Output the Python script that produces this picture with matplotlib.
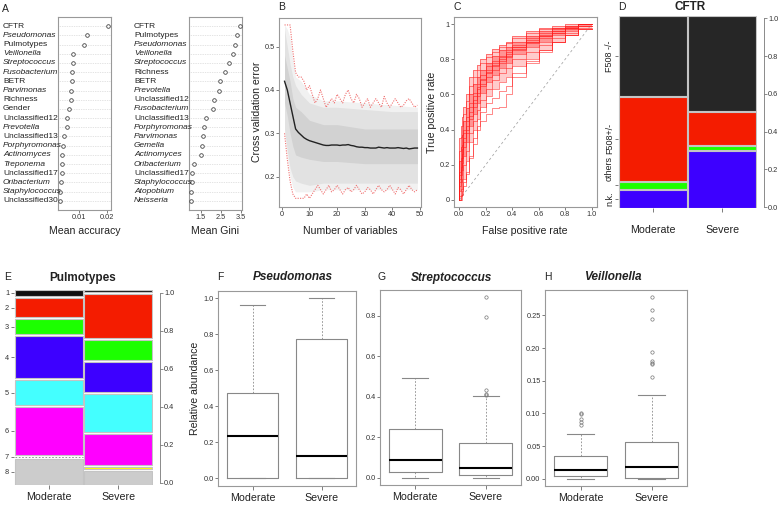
import matplotlib
matplotlib.use("Agg")
import matplotlib.pyplot as plt
import matplotlib.transforms as mtransforms
import numpy as np

plt.rcParams['font.family'] = ['Liberation Sans', 'DejaVu Sans']

W, H = 780, 505

# ---- A: variable importance ----
acc_labels = ["CFTR", "Pseudomonas", "Pulmotypes", "Veillonella", "Streptococcus",
              "Fusobacterium", "BETR", "Parvimonas", "Richness", "Gender",
              "Unclassified12", "Prevotella", "Unclassified13", "Porphyromonas",
              "Actinomyces", "Treponema", "Unclassified17", "Oribacterium",
              "Staphylococcus", "Unclassified30"]
acc_values = [0.0205, 0.0131, 0.0118, 0.0078, 0.0078, 0.0074, 0.0074, 0.0071, 0.0071,
              0.0066, 0.0058, 0.0057, 0.0046, 0.0044, 0.0040, 0.0040, 0.0038, 0.0035,
              0.0033, 0.0032]
gini_labels = ["CFTR", "Pulmotypes", "Pseudomonas", "Veillonella", "Streptococcus",
               "Richness", "BETR", "Prevotella", "Unclassified12", "Fusobacterium",
               "Unclassified13", "Porphyromonas", "Parvimonas", "Gemella", "Actinomyces",
               "Oribacterium", "Unclassified17", "Staphylococcus", "Atopobium", "Neisseria"]
gini_values = [3.45, 3.29, 3.19, 3.11, 2.91, 2.73, 2.44, 2.39, 2.16, 2.12, 1.79, 1.69,
               1.60, 1.57, 1.50, 1.20, 1.10, 1.10, 1.03, 1.03]
plain_labels = {"CFTR", "Pulmotypes", "BETR", "Richness", "Gender", "Unclassified12",
                "Unclassified13", "Unclassified17", "Unclassified30"}

# ---- B: cross validation error vs number of variables ----
nvar = list(range(1, 50))
cv_mean = [0.42, 0.40, 0.37, 0.34, 0.31, 0.302, 0.296, 0.29, 0.286, 0.283, 0.281, 0.279,
           0.277, 0.275, 0.273, 0.272, 0.272, 0.273, 0.273, 0.273, 0.272, 0.273, 0.273,
           0.274, 0.272, 0.271, 0.269, 0.268, 0.268, 0.267, 0.267, 0.266, 0.266, 0.266,
           0.268, 0.267, 0.266, 0.267, 0.266, 0.266, 0.266, 0.267, 0.266, 0.265, 0.266,
           0.264, 0.265, 0.266, 0.266]
cv_max = [0.55, 0.55, 0.55, 0.49, 0.44, 0.43, 0.43, 0.42, 0.40, 0.41, 0.39, 0.37, 0.38,
          0.40, 0.38, 0.36, 0.37, 0.38, 0.37, 0.39, 0.38, 0.37, 0.39, 0.40, 0.38, 0.37,
          0.39, 0.38, 0.36, 0.37, 0.38, 0.36, 0.37, 0.38, 0.37, 0.36, 0.385, 0.37, 0.36,
          0.37, 0.38, 0.37, 0.36, 0.365, 0.375, 0.38, 0.37, 0.36, 0.365]
cv_min = [0.30, 0.24, 0.19, 0.16, 0.15, 0.15, 0.15, 0.15, 0.16, 0.15, 0.16, 0.17, 0.18,
          0.17, 0.16, 0.17, 0.18, 0.165, 0.17, 0.18, 0.17, 0.16, 0.17, 0.175, 0.165, 0.17,
          0.18, 0.17, 0.16, 0.165, 0.175, 0.17, 0.16, 0.17, 0.18, 0.17, 0.165, 0.17, 0.18,
          0.17, 0.16, 0.175, 0.17, 0.16, 0.17, 0.18, 0.17, 0.165, 0.17]
band_x = [1, 2, 3, 4, 5, 7, 10, 15, 20, 30, 40, 49]
band_wide_lo = [0.30, 0.245, 0.20, 0.175, 0.165, 0.165, 0.165, 0.17, 0.17, 0.17, 0.17, 0.17]
band_wide_hi = [0.55, 0.54, 0.52, 0.47, 0.43, 0.42, 0.39, 0.375, 0.375, 0.37, 0.365, 0.36]
band_outer_lo = [0.31, 0.26, 0.22, 0.20, 0.19, 0.185, 0.18, 0.185, 0.185, 0.185, 0.185, 0.185]
band_outer_hi = [0.54, 0.50, 0.46, 0.43, 0.41, 0.39, 0.37, 0.36, 0.36, 0.355, 0.35, 0.35]
band_inner_lo = [0.37, 0.34, 0.30, 0.27, 0.25, 0.245, 0.24, 0.235, 0.235, 0.23, 0.23, 0.23]
band_inner_hi = [0.48, 0.45, 0.42, 0.38, 0.36, 0.35, 0.33, 0.32, 0.32, 0.31, 0.31, 0.31]

# ---- C: ROC curves ----
fpr = [0, 0.01, 0.02, 0.03, 0.05, 0.07, 0.1, 0.13, 0.16, 0.2, 0.25, 0.3, 0.35, 0.4,
       0.5, 0.6, 0.7, 0.8, 0.9, 1.0]
roc_upper = [0, 0.35, 0.42, 0.47, 0.53, 0.60, 0.70, 0.74, 0.77, 0.80, 0.83, 0.86, 0.88,
             0.90, 0.93, 0.96, 0.98, 0.99, 1.0, 1.0]
roc_u2 = [0, 0.28, 0.36, 0.42, 0.49, 0.56, 0.65, 0.70, 0.74, 0.78, 0.81, 0.84, 0.87,
          0.89, 0.92, 0.95, 0.97, 0.98, 0.99, 1.0]
roc_u3 = [0, 0.22, 0.30, 0.37, 0.45, 0.52, 0.60, 0.66, 0.70, 0.74, 0.78, 0.82, 0.85,
          0.87, 0.90, 0.93, 0.96, 0.98, 0.99, 1.0]
roc_m1 = [0, 0.16, 0.24, 0.31, 0.40, 0.47, 0.55, 0.61, 0.66, 0.71, 0.76, 0.79, 0.82,
          0.85, 0.88, 0.92, 0.95, 0.97, 0.985, 1.0]
roc_m1b = [0, 0.14, 0.22, 0.29, 0.38, 0.45, 0.53, 0.59, 0.64, 0.69, 0.74, 0.78, 0.81,
           0.84, 0.87, 0.91, 0.94, 0.96, 0.98, 1.0]
roc_m2 = [0, 0.12, 0.19, 0.26, 0.35, 0.42, 0.50, 0.57, 0.63, 0.68, 0.73, 0.77, 0.80,
          0.83, 0.87, 0.90, 0.93, 0.96, 0.98, 1.0]
roc_m2b = [0, 0.10, 0.17, 0.24, 0.33, 0.40, 0.48, 0.55, 0.61, 0.66, 0.72, 0.76, 0.79,
           0.82, 0.86, 0.90, 0.93, 0.95, 0.975, 0.99]
roc_m3 = [0, 0.08, 0.14, 0.21, 0.30, 0.38, 0.46, 0.53, 0.59, 0.65, 0.70, 0.74, 0.78,
          0.81, 0.85, 0.89, 0.92, 0.95, 0.97, 0.99]
roc_m4 = [0, 0.05, 0.10, 0.17, 0.25, 0.33, 0.42, 0.49, 0.55, 0.61, 0.67, 0.71, 0.75,
          0.78, 0.83, 0.87, 0.90, 0.94, 0.96, 0.99]
roc_l1 = [0, 0.02, 0.06, 0.12, 0.20, 0.28, 0.38, 0.45, 0.51, 0.57, 0.63, 0.68, 0.72,
          0.75, 0.80, 0.84, 0.88, 0.92, 0.95, 0.98]
roc_l2 = [0, 0.0, 0.03, 0.06, 0.12, 0.22, 0.33, 0.40, 0.46, 0.53, 0.59, 0.63, 0.67,
          0.70, 0.76, 0.80, 0.85, 0.90, 0.94, 0.97]
roc_o1 = [0, 0.0, 0.02, 0.05, 0.10, 0.16, 0.24, 0.32, 0.40, 0.45, 0.49, 0.52, 0.53,
          0.60, 0.70, 0.78, 0.84, 0.90, 0.94, 0.97]
roc_o2 = [0, 0.0, 0.0, 0.03, 0.08, 0.15, 0.25, 0.35, 0.42, 0.50, 0.55, 0.58, 0.62,
          0.65, 0.72, 0.79, 0.85, 0.90, 0.94, 0.97]
roc_curves = [roc_upper, roc_u2, roc_u3, roc_m1, roc_m1b, roc_m2, roc_m2b, roc_m3,
              roc_m4, roc_l1, roc_l2, roc_o1, roc_o2]

# ---- D / E: mosaic plots ----
groups = ["Moderate", "Severe"]
cftr_levels = ["F508 -/-", "F508+/-", "others", "n.k."]
cftr_moderate = [0.422, 0.445, 0.036, 0.097]
cftr_severe = [0.503, 0.176, 0.021, 0.300]
cftr_colors = ['#262626', '#f41c00', '#1cff00', '#3d00ff']

pulmo_levels = ["1", "2", "3", "4", "5", "6", "7", "8"]
pulmo_moderate = [0.033, 0.107, 0.082, 0.233, 0.136, 0.265, 0.0, 0.144]
pulmo_severe = [0.011, 0.243, 0.110, 0.164, 0.212, 0.170, 0.014, 0.075]
pulmo_colors = ['#111111', '#f41c00', '#1cff00', '#3d00ff', '#44ffff', '#ff00ff',
                '#ffff00', '#cccccc']

# ---- F/G/H: boxplots (q1, median, q3, whisker low, whisker high) ----
pseudo_mod = [0.0, 0.235, 0.474, 0.0, 0.959]
pseudo_sev = [0.0, 0.120, 0.772, 0.0, 1.0]
strep_mod = [0.026, 0.084, 0.241, 0.0, 0.493]
strep_sev = [0.011, 0.049, 0.169, 0.0, 0.404]
strep_sev_out = [0.405, 0.41, 0.433, 0.791, 0.89]
veil_mod = [0.0046, 0.0133, 0.0354, 0.0, 0.069]
veil_mod_out = [0.083, 0.087, 0.091, 0.0995, 0.1015]
veil_sev = [0.001, 0.0185, 0.0559, 0.0, 0.128]
veil_sev_out = [0.156, 0.175, 0.178, 0.18, 0.194, 0.245, 0.259, 0.279]

FRAME = '#999999'
TXT = '#222222'

fig = plt.figure(figsize=(W / 100, H / 100), dpi=100)


def rect(l, t, r, b):
    return [l / W, 1 - b / H, (r - l) / W, (b - t) / H]


def ftext(x, y, s, **kw):
    kw.setdefault('ha', 'center')
    kw.setdefault('va', 'center')
    kw.setdefault('color', TXT)
    fig.text(x / W, 1 - y / H, s, **kw)


def frame(ax):
    for sp in ax.spines.values():
        sp.set_color(FRAME)
        sp.set_linewidth(0.8)
    ax.tick_params(labelsize=5.3, length=2, width=0.6, pad=1.2, color='#666666',
                   labelcolor='#333333')


def dotchart(ax, labels, values, xlim, xticks, label_x):
    n = len(labels)
    ypos = np.arange(n, 0, -1)
    for y in ypos:
        ax.axhline(y, color='#c8c8c8', lw=0.5, ls=(0, (1, 1.5)), zorder=1)
    ax.plot(values, ypos, 'o', ms=2.6, mfc='white', mec='#444444', mew=0.6, zorder=3)
    ax.set_ylim(0, n + 1)
    ax.set_xlim(xlim)
    ax.set_yticks([])
    ax.set_xticks(xticks, [str(t) for t in xticks])
    frame(ax)
    trans = mtransforms.blended_transform_factory(fig.transFigure, ax.transData)
    for lab, y in zip(labels, ypos):
        style = 'normal' if lab in plain_labels else 'italic'
        ax.text(label_x / W, y, lab, transform=trans, fontsize=6, style=style,
                va='center', ha='left', color=TXT)


# A
axA1 = fig.add_axes(rect(58, 17, 111, 210))
dotchart(axA1, acc_labels, acc_values, (0.0025, 0.0216), [0.01, 0.02], 3)
axA2 = fig.add_axes(rect(189, 17, 242, 210))
dotchart(axA2, gini_labels, gini_values, (0.93, 3.55), [1.5, 2.5, 3.5], 134)
ftext(85, 231, "Mean accuracy", fontsize=7.6)
ftext(215, 231, "Mean Gini", fontsize=7.6)
ftext(5, 12, "A", fontsize=7.5, va='baseline')

# B
axB = fig.add_axes(rect(279, 18, 421, 207))
axB.fill_between(band_x, band_wide_lo, band_wide_hi, color='#f1f1f1', lw=0)
axB.fill_between(band_x, band_outer_lo, band_outer_hi, color='#e2e2e2', lw=0)
axB.fill_between(band_x, band_inner_lo, band_inner_hi, color='#d2d2d2', lw=0)
axB.plot(nvar, cv_max, color='#f07070', ls=(0, (1, 1.2)), lw=0.8)
axB.plot(nvar, cv_min, color='#f07070', ls=(0, (1, 1.2)), lw=0.8)
axB.plot(nvar, cv_mean, color='#222222', lw=1.0)
axB.set_xlim(-1, 50.3)
axB.set_ylim(0.13, 0.566)
axB.set_xticks([0, 10, 20, 30, 40, 50])
axB.set_yticks([0.2, 0.3, 0.4, 0.5], ["0.2", "0.3", "0.4", "0.5"])
frame(axB)
ftext(350, 231, "Number of variables", fontsize=7.6)
ftext(257, 112, "Cross validation error", fontsize=7.6, rotation=90)
ftext(282, 10, "B", fontsize=7.5, va='baseline')

# C
axC = fig.add_axes(rect(454, 17, 597, 207))
axC.plot([0, 1], [0, 1], color='#aaaaaa', ls=(0, (3, 3)), lw=0.6)
axC.fill_between(fpr, roc_l2, roc_upper, step='pre', color='#ff6a6a', alpha=0.35, lw=0)
axC.fill_between(fpr, roc_m4, roc_u3, step='pre', color='#ff3030', alpha=0.35, lw=0)
for curve in roc_curves:
    axC.plot(fpr, curve, drawstyle='steps-pre', color='#ff1a1a', alpha=0.6, lw=0.6)
axC.set_xlim(-0.04, 1.04)
axC.set_ylim(-0.04, 1.04)
axC.set_xticks([0, 0.2, 0.4, 0.6, 0.8, 1.0], ["0.0", "0.2", "0.4", "0.6", "0.8", "1.0"])
axC.set_yticks([0, 0.2, 0.4, 0.6, 0.8, 1.0], ["0", "0.2", "0.4", "0.6", "0.8", "1"])
frame(axC)
ftext(525, 231, "False positive rate", fontsize=7.6)
ftext(432, 112, "True positive rate", fontsize=7.6, rotation=90)
ftext(457.5, 10, "C", fontsize=7.5, va='baseline')


def mosaic(ax, columns, colors, gap, colgap):
    n = len(colors)
    avail = 1 - gap * (n - 1)
    centers = []
    for j, props in enumerate(columns):
        top = 1.0
        cs = []
        for k, p in enumerate(props):
            h = p * avail
            if h > 0:
                ax.bar(j, h, bottom=top - h, width=1 - colgap, color=colors[k],
                       edgecolor='#c4c4c4', lw=0.8)
            else:
                ax.plot([j - 0.5 + colgap / 2, j + 0.5 - colgap / 2], [top, top],
                        color='#888888', ls=(0, (2, 2)), lw=0.6)
            cs.append(top - h / 2)
            top -= h + gap
        centers.append(cs)
    ax.set_xlim(-0.5, 1.5)
    ax.set_ylim(0, 1)
    for sp in ax.spines.values():
        sp.set_visible(False)
    return centers


def right_scale(ax, lims, offset):
    tw = ax.twinx()
    tw.set_ylim(lims)
    for name, sp in tw.spines.items():
        sp.set_visible(name == 'right')
    tw.spines['right'].set_position(('outward', offset))
    tw.spines['right'].set_bounds(0, 1)
    tw.spines['right'].set_color('#777777')
    tw.spines['right'].set_linewidth(0.6)
    tw.set_yticks([0, 0.2, 0.4, 0.6, 0.8, 1.0],
                  ["0.0", "0.2", "0.4", "0.6", "0.8", "1.0"])
    tw.tick_params(labelsize=5.3, length=2, width=0.6, pad=1, color='#777777',
                   labelcolor='#333333')


# D
axD = fig.add_axes(rect(618, 16, 757, 208))
cD = mosaic(axD, [cftr_moderate, cftr_severe], cftr_colors, 0.006, 0.015)
axD.set_yticks(cD[0], [""] * len(cftr_levels))
axD.set_xticks([0, 1], groups)
axD.tick_params(axis='x', labelsize=7.7, length=3, width=0.6, pad=9.5,
                color='#666666', labelcolor=TXT)
axD.tick_params(axis='y', length=2.5, width=0.6, color='#666666')
right_scale(axD, (-0.004, 1.012), 5)
transD = mtransforms.blended_transform_factory(fig.transFigure, axD.transData)
for k, lab in enumerate(cftr_levels):
    y = cD[0][k]
    va = 'center'
    if lab == "others":
        y = cD[0][k] + cftr_moderate[k] * 0.5 * (1 - 0.006 * 3) + 0.006
        va = 'bottom'
    axD.text(614 / W, y, lab, transform=transD, rotation=90, ha='right', va=va,
             fontsize=6.5, color=TXT)
ftext(690, 10.5, "CFTR", fontsize=8.5, fontweight='bold', va='baseline')
ftext(622, 9.5, "D", fontsize=7.5, va='baseline')

# E
axE = fig.add_axes(rect(14, 290, 153, 485))
cE = mosaic(axE, [pulmo_moderate, pulmo_severe], pulmo_colors, 0.0103, 0.015)
axE.set_yticks(cE[0], pulmo_levels)
axE.set_xticks([0, 1], groups)
axE.tick_params(axis='x', labelsize=7.7, length=3, width=0.6, pad=2,
                color='#666666', labelcolor=TXT)
axE.tick_params(axis='y', labelsize=5.3, length=2.5, width=0.6, pad=1,
                color='#666666', labelcolor='#333333')
right_scale(axE, (-0.012, 1.015), 5)
ftext(83, 280.5, "Pulmotypes", fontsize=8.5, fontweight='bold', va='baseline')
ftext(8, 280, "E", fontsize=7.5, va='baseline')


def boxpanel(ax, mod, sev, mod_out, sev_out, ylim, yticks, yticklabels):
    stats = []
    for s, out in ((mod, mod_out), (sev, sev_out)):
        stats.append(dict(q1=s[0], med=s[1], q3=s[2], whislo=s[3], whishi=s[4],
                          fliers=out))
    ax.bxp(stats, positions=[1, 2], widths=0.75, showfliers=True,
           boxprops=dict(color='#888888', lw=0.8),
           medianprops=dict(color='black', lw=1.5),
           whiskerprops=dict(color='#888888', ls=(0, (2, 2)), lw=0.6),
           capprops=dict(color='#888888', lw=0.8),
           flierprops=dict(marker='o', ms=2.4, mfc='none', mec='#777777', mew=0.5))
    ax.set_xlim(0.5, 2.5)
    ax.set_ylim(ylim)
    ax.set_yticks(yticks, yticklabels)
    ax.set_xticks([1, 2], groups)
    frame(ax)
    ax.tick_params(axis='x', labelsize=7.7, length=3, pad=2, labelcolor=TXT)


axF = fig.add_axes(rect(218, 291, 356, 486))
boxpanel(axF, pseudo_mod, pseudo_sev, [], [], (-0.044, 1.039),
         [0, 0.2, 0.4, 0.6, 0.8, 1.0], ["0.0", "0.2", "0.4", "0.6", "0.8", "1.0"])
ftext(195, 388, "Relative abundance", fontsize=7.6, rotation=90)
ftext(293, 280.5, "Pseudomonas", fontsize=8.5, fontweight='bold', style='italic',
      va='baseline')
ftext(220.5, 280, "F", fontsize=7.5, va='baseline')

axG = fig.add_axes(rect(380, 290, 521, 485))
boxpanel(axG, strep_mod, strep_sev, [], strep_sev_out, (-0.037, 0.926),
         [0, 0.2, 0.4, 0.6, 0.8], ["0.0", "0.2", "0.4", "0.6", "0.8"])
ftext(451, 280.5, "Streptococcus", fontsize=8.5, fontweight='bold', style='italic',
      va='baseline')
ftext(382, 280, "G", fontsize=7.5, va='baseline')

axH = fig.add_axes(rect(545, 290, 687, 486))
boxpanel(axH, veil_mod, veil_sev, veil_mod_out, veil_sev_out, (-0.011, 0.289),
         [0, 0.05, 0.10, 0.15, 0.20, 0.25],
         ["0.00", "0.05", "0.10", "0.15", "0.20", "0.25"])
ftext(612.7, 280.5, "Veillonella", fontsize=8.5, fontweight='bold', style='italic',
      va='baseline')
ftext(547.5, 280, "H", fontsize=7.5, va='baseline')

fig.savefig("out.png", dpi=100)
